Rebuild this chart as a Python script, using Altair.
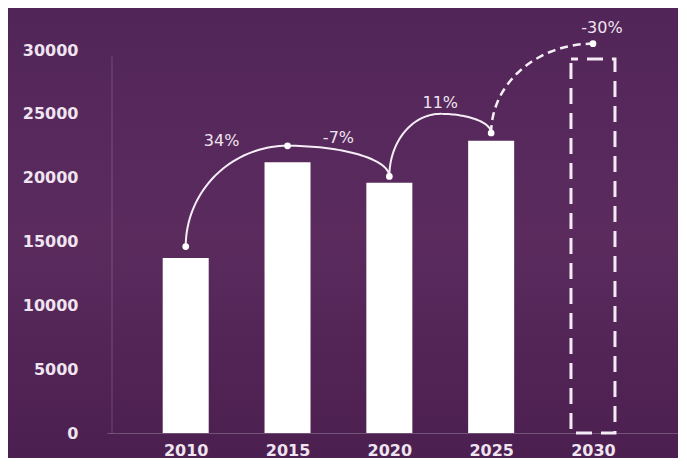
import altair as alt
import numpy as np
import pandas as pd

# ---- data ----
years = [2010, 2015, 2020, 2025, 2030]
values = [13700, 21200, 19600, 22900, 29300]          # 2030 is the dashed (projected) bar
projected = [False, False, False, False, True]
marker_values = [14600, 22500, 20100, 23500, 30500]   # white dots above the bars
arc_peak_2020_2025 = 25000                            # top of the 2020->2025 hop
change_labels = ["34%", "-7%", "11%", "-30%"]
y_ticks = [0, 5000, 10000, 15000, 20000, 25000, 30000]
y_guide_top = 29500                                   # faint vertical guide line reaches this high

TXT = "#efe4f0"
FONT = "DejaVu Sans"

bars = pd.DataFrame({"year": years, "value": values, "projected": projected})
dots = pd.DataFrame({"year": years, "marker": marker_values})


# ---- connector geometry (quarter ellipses between the dots) ----
def quarter(cx, cy, rx, ry, t0, t1, n=40):
    t = np.linspace(t0, t1, n)
    return cx + rx * np.cos(t), cy + ry * np.sin(t)


y0, y1, y2, y3, y4 = marker_values
mid23 = (years[2] + years[3]) / 2
segments = [
    # (arc id, dashed, cx, cy, rx, ry, t0, t1)
    (0, False, years[1], y0, years[1] - years[0], y1 - y0, np.pi, np.pi / 2),
    (1, False, years[1], y2, years[2] - years[1], y1 - y2, np.pi / 2, 0),
    (2, False, mid23, y2, mid23 - years[2], arc_peak_2020_2025 - y2, np.pi, np.pi / 2),
    (2, False, mid23, y3, years[3] - mid23, arc_peak_2020_2025 - y3, np.pi / 2, 0),
    (3, True, years[4], y3, years[4] - years[3], y4 - y3, np.pi, np.pi / 2),
]
rows = []
order = 0
for arc, dashed, cx, cy, rx, ry, t0, t1 in segments:
    xs, ys = quarter(cx, cy, rx, ry, t0, t1)
    for xv, yv in zip(xs, ys):
        rows.append({"arc": arc, "dashed": dashed, "x": xv, "y": yv, "o": order})
        order += 1
arcs = pd.DataFrame(rows)

labels = pd.DataFrame({
    "label": change_labels,
    "x": [(years[0] + years[1]) / 2, (years[1] + years[2]) / 2, mid23, years[4]],
    "y": [y1, y1, arc_peak_2020_2025, y4],
})
label_offsets = [(-15, -5), (0, -8), (0, -11), (9, -16)]

X_MIN, X_MAX = 2006.38, 2033.93
xscale = alt.Scale(domain=[X_MIN, X_MAX], nice=False, zero=False)
yscale = alt.Scale(domain=[0, 32000], nice=False)

W, H = 571, 408.5
PAD = {"left": 99, "top": 16.5, "right": 0, "bottom": 25}

background = alt.Chart(pd.DataFrame({"a": [0]})).mark_rect(
    fill=alt.Gradient(
        gradient="linear",
        stops=[
            alt.GradientStop(color="#522558", offset=0),
            alt.GradientStop(color="#5b2b5e", offset=0.5),
            alt.GradientStop(color="#4b1f4f", offset=1),
        ],
        x1=0, x2=0, y1=0, y2=1,
    ),
    clip=False,
).encode(
    x=alt.value(-PAD["left"]), x2=alt.value(W + PAD["right"]),
    y=alt.value(-PAD["top"]), y2=alt.value(H + PAD["bottom"]),
)

x_enc = alt.X(
    "year:Q", scale=xscale,
    axis=alt.Axis(values=years, format="d", title=None, grid=False, ticks=False,
                  labelPadding=9, domainColor="#ffffff", domainOpacity=0.22, zindex=1),
)
y_enc = alt.Y(
    "value:Q", scale=yscale,
    axis=alt.Axis(values=y_ticks, format="d", title=None, grid=False, ticks=False,
                  labelPadding=29, domain=False, zindex=1),
)

guide = alt.Chart(pd.DataFrame({"x": [X_MIN], "y": [0], "y2": [y_guide_top]})).mark_rule(
    color="#ffffff", opacity=0.18, strokeWidth=1
).encode(
    x=alt.X("x:Q", scale=xscale), y=alt.Y("y:Q", scale=yscale), y2="y2:Q"
)

solid_bars = alt.Chart(bars).transform_filter("!datum.projected").mark_bar(
    size=46, color="#ffffff"
).encode(x=x_enc, y=y_enc)

dashed_bar = alt.Chart(bars).transform_filter("datum.projected").mark_bar(
    size=44, color="#ffffff", fillOpacity=0, stroke="#f4eaf5", strokeWidth=3,
    strokeDash=[16, 9], strokeDashOffset=9,
).encode(x=alt.X("year:Q", scale=xscale), y=alt.Y("value:Q", scale=yscale))

solid_arcs = alt.Chart(arcs).transform_filter("!datum.dashed").mark_line(
    color="#f6eef7", strokeWidth=2, clip=False
).encode(
    x=alt.X("x:Q", scale=xscale), y=alt.Y("y:Q", scale=yscale),
    detail="arc:N", order="o:Q",
)

dashed_arc = alt.Chart(arcs).transform_filter("datum.dashed").mark_line(
    color="#f6eef7", strokeWidth=2.5, strokeDash=[8, 5], clip=False
).encode(
    x=alt.X("x:Q", scale=xscale), y=alt.Y("y:Q", scale=yscale),
    detail="arc:N", order="o:Q",
)

dot_layer = alt.Chart(dots).mark_circle(size=45, color="#ffffff", opacity=1).encode(
    x=alt.X("year:Q", scale=xscale), y=alt.Y("marker:Q", scale=yscale)
)

text_layers = []
for i, (dx, dy) in enumerate(label_offsets):
    text_layers.append(
        alt.Chart(labels.iloc[[i]]).mark_text(
            font=FONT, fontSize=16, color=TXT, dx=dx, dy=dy, baseline="middle",
            align="center", clip=False,
        ).encode(
            x=alt.X("x:Q", scale=xscale), y=alt.Y("y:Q", scale=yscale), text="label:N"
        )
    )

chart = alt.layer(
    background, guide, solid_bars, dashed_bar, solid_arcs, dashed_arc, dot_layer, *text_layers
).properties(
    width=W, height=H, padding=PAD,
    autosize=alt.AutoSizeParams(type="none"),
    background="#552759",
).configure_view(
    stroke=None
).configure_axis(
    labelFont=FONT, labelFontSize=16, labelFontWeight="bold", labelColor=TXT,
)

chart.save("out.html", embed_options={"renderer": "svg", "actions": False})
